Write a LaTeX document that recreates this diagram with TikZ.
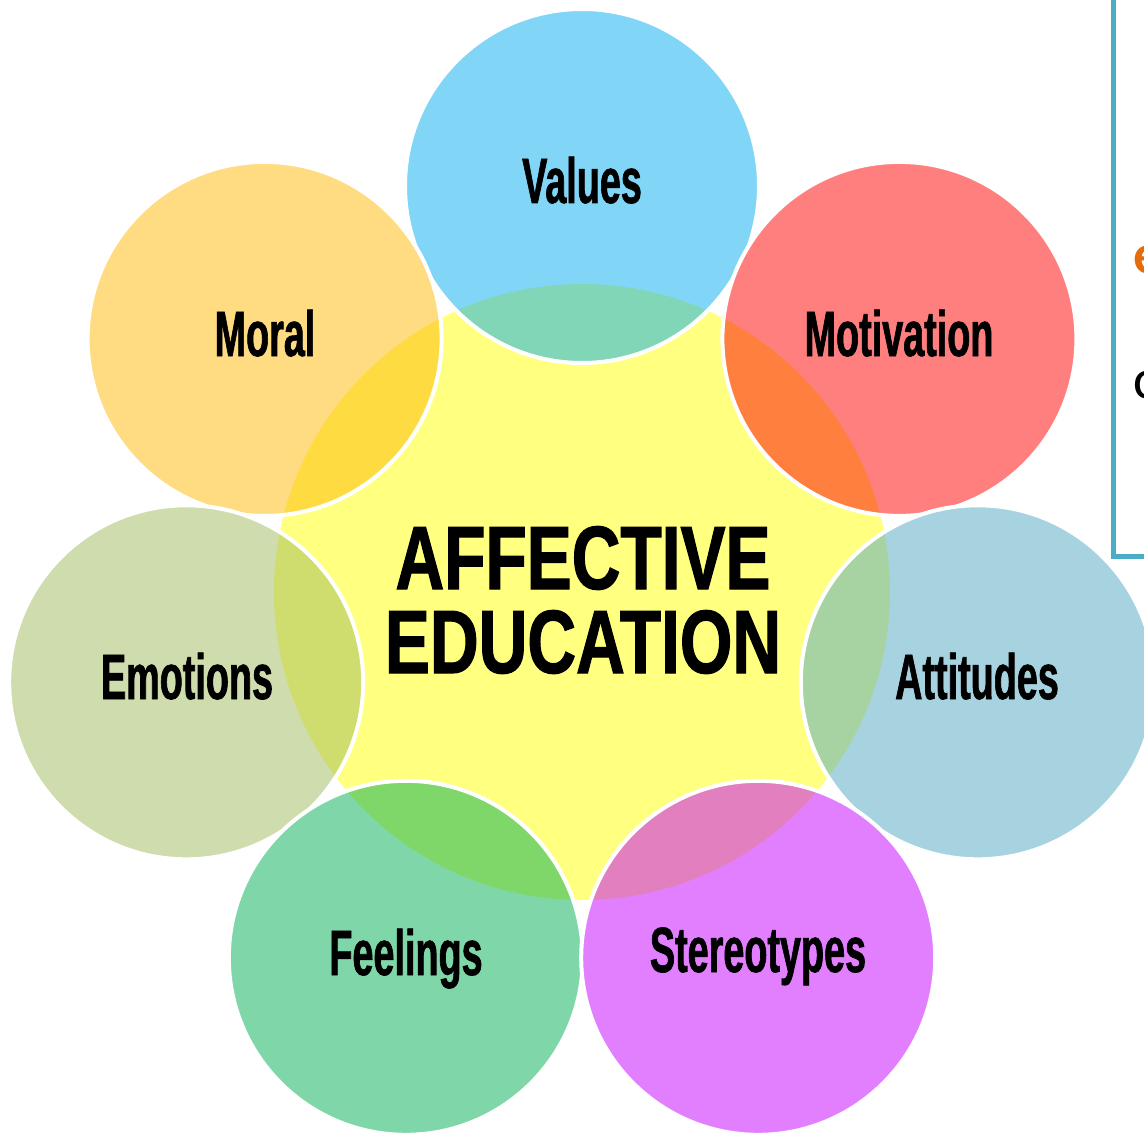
\documentclass[tikz,border=0pt]{standalone}
\usepackage{fontspec}
\setmainfont{Liberation Sans}
\newfontfamily\lblfont[FakeStretch=0.59,FakeBold=1]{Liberation Sans}
\newfontfamily\ctrfont[FakeStretch=0.75,FakeBold=1.2]{Liberation Sans}
\newfontfamily\sidefont{Carlito}
\definecolor{cyellow}{HTML}{FFFF80}
\definecolor{cvalues}{RGB}{5,175,241}
\definecolor{cmoral}{RGB}{255,185,5}
\definecolor{cmotiv}{RGB}{255,0,0}
\definecolor{cemot}{RGB}{161,187,93}
\definecolor{catt}{RGB}{81,169,197}
\definecolor{cfeel}{RGB}{1,177,85}
\definecolor{cster}{RGB}{197,1,255}
\definecolor{boxblue}{HTML}{4BACC6}
\definecolor{sideorange}{HTML}{E46C0A}
\tikzset{
  outer/.style={circle, minimum size=177pt, inner sep=0pt, outer sep=0pt,
    draw=white, line width=2pt, fill=#1, fill opacity=0.5, draw opacity=1},
  lbl/.style={anchor=base, inner sep=0pt, font=\lblfont\bfseries\fontsize{32}{36}\selectfont, text=black},
  ctr/.style={anchor=base, inner sep=0pt, font=\ctrfont\bfseries\fontsize{45}{50}\selectfont, text=black},
}
\begin{document}
\begin{tikzpicture}[x=0.5pt,y=-0.5pt]
\clip (0,0) rectangle (1144,1134);
\fill[white] (0,0) rectangle (1144,1134);
% central circle
\node[circle, minimum size=308pt, inner sep=0pt, fill=cyellow] (center) at (582,592) {};
% outer circles
\node[outer=cvalues] (values) at (582,186) {};
\node[outer=cmoral] (moral) at (264.6,338.9) {};
\node[outer=cmotiv] (motiv) at (899.4,338.9) {};
\node[outer=cemot] (emot) at (186.2,682.3) {};
\node[outer=catt] (att) at (977.8,682.3) {};
\node[outer=cfeel] (feel) at (405.8,957.8) {};
\node[outer=cster] (ster) at (758.2,957.8) {};
% labels
\node[lbl] (tvalues) at (582,203) {Values};
\node[lbl] (tmoral) at (265,356) {Moral};
\node[lbl] (tmotiv) at (899,356) {Motivation};
\node[lbl] (temot) at (187,699) {Emotions};
\node[lbl] (tatt) at (977,699) {Attitudes};
\node[lbl] (tfeel) at (406,975) {Feelings};
\node[lbl] (tster) at (758,972) {Stereotypes};
% central text
\node[ctr] (t1) at (583,589) {AFFECTIVE};
\node[ctr] (t2) at (583,673) {EDUCATION};
% side box (cut off)
\draw[boxblue, line width=2.5pt] (1113,-20) -- (1113,556) -- (1200,556);
\node[anchor=base west, inner sep=0pt, text=sideorange, font=\sidefont\bfseries\fontsize{28}{32}\selectfont] (se) at (1133,273) {e};
\node[anchor=base west, inner sep=0pt, text=black, font=\sidefont\fontsize{28}{32}\selectfont] (sc) at (1133,398) {c};
\end{tikzpicture}
\end{document}
